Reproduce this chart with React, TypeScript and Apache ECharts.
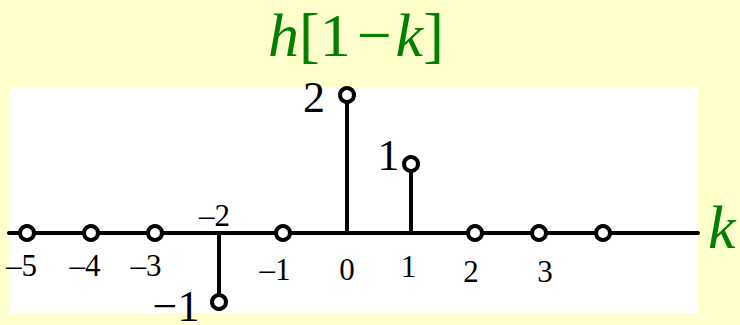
import React, { useEffect, useRef } from 'react';
import * as echarts from 'echarts';

// Discrete-time sequence h[1-k]
const kValues = [-5, -4, -3, -2, -1, 0, 1, 2, 3, 4];
const hValues = [0, 0, 0, -1, 0, 2, 1, 0, 0, 0];
const tickLabels = ['–5', '–4', '–3', '–2', '–1', '0', '1', '2', '3', ''];

// Offsets (px) of each tick label's centre from its sample point on the axis
const tickNudge: [number, number][] = [
  [-5.5, 32], [-6, 32], [-9, 32], [-4.5, -17.5], [-8, 36],
  [0, 36], [-2.5, 33.5], [-4, 38.5], [6, 38.5], [0, 0],
];
// Offsets (px) of the value labels from their stem tips, keyed by k
const valueNudge: Record<string, [number, number]> = {
  '0': [-33, 2],
  '1': [-22.5, -9],
  '-2': [-43, 4],
};

const SERIF = 'Liberation Serif';
const GREEN = '#008000';

const fmtValue = (v: number) => (v < 0 ? '−' + Math.abs(v) : String(v));

export default function App() {
  const ref = useRef<HTMLDivElement>(null);

  useEffect(() => {
    if (!ref.current) return;
    const chart = echarts.init(ref.current, undefined, { renderer: 'svg' });

    const samples = kValues.map((k, i) => [k, hValues[i]]);
    const nonZero = samples.filter((d) => d[1] !== 0);

    chart.setOption({
      animation: false,
      backgroundColor: '#FFFFCC',
      grid: {
        left: 9,
        right: 42,
        top: 87,
        bottom: 12,
        show: true,
        backgroundColor: '#ffffff',
        borderWidth: 0,
      },
      xAxis: {
        type: 'value',
        min: -5.281,
        max: 5.484,
        axisLine: { show: true, onZero: true, lineStyle: { color: '#000', width: 4 } },
        axisTick: { show: false },
        axisLabel: { show: false },
        splitLine: { show: false },
      },
      yAxis: {
        type: 'value',
        min: -1.159,
        max: 2.116,
        axisLine: { show: false },
        axisTick: { show: false },
        axisLabel: { show: false },
        splitLine: { show: false },
      },
      graphic: [
        {
          type: 'text',
          left: 268,
          top: 4,
          style: {
            text: '{i|h}{n|[1}{m|−}{i|k}{n|]}',
            rich: {
              i: { font: `italic 62px ${SERIF}`, fill: GREEN },
              n: { font: `62px ${SERIF}`, fill: GREEN },
              m: { font: `62px ${SERIF}`, fill: GREEN, padding: [0, 4, 0, 6] },
            },
          },
        },
        {
          type: 'text',
          left: 708,
          top: 196,
          style: {
            text: 'k',
            font: `italic 62px ${SERIF}`,
            fill: GREEN,
          },
        },
      ],
      series: [
        {
          type: 'custom',
          name: 'stems',
          z: 2,
          clip: false,
          data: nonZero,
          renderItem: (_p: any, api: any) => {
            const k = api.value(0);
            const v = api.value(1);
            const a = api.coord([k, 0]);
            const b = api.coord([k, v]);
            return {
              type: 'line',
              shape: { x1: a[0], y1: a[1], x2: b[0], y2: b[1] },
              style: { stroke: '#000', lineWidth: 4 },
            };
          },
        },
        {
          type: 'scatter',
          name: 'samples',
          z: 3,
          data: samples,
          symbol: 'circle',
          symbolSize: 14,
          itemStyle: { color: '#fff', borderColor: '#000', borderWidth: 4, opacity: 1 },
        },
        {
          type: 'custom',
          name: 'tickLabels',
          z: 4,
          clip: false,
          data: kValues.map((k) => [k, 0]),
          renderItem: (p: any, api: any) => {
            const i = p.dataIndex;
            const pt = api.coord([api.value(0), 0]);
            const [dx, dy] = tickNudge[i];
            return {
              type: 'text',
              x: pt[0] + dx,
              y: pt[1] + dy,
              style: {
                text: tickLabels[i],
                font: `31px ${SERIF}`,
                fill: '#000',
                align: 'center',
                verticalAlign: 'middle',
              },
            };
          },
        },
        {
          type: 'custom',
          name: 'valueLabels',
          z: 4,
          clip: false,
          data: nonZero,
          renderItem: (_p: any, api: any) => {
            const k = api.value(0);
            const v = api.value(1);
            const pt = api.coord([k, v]);
            const [dx, dy] = valueNudge[String(k)] || [-30, 0];
            return {
              type: 'text',
              x: pt[0] + dx,
              y: pt[1] + dy,
              style: {
                text: fmtValue(v),
                font: `44px ${SERIF}`,
                fill: '#000',
                align: 'center',
                verticalAlign: 'middle',
              },
            };
          },
        },
      ],
    });

    return () => chart.dispose();
  }, []);

  return (
    <div
      ref={ref}
      style={{ position: 'absolute', left: 0, top: 0, width: 740, height: 325 }}
    />
  );
}
